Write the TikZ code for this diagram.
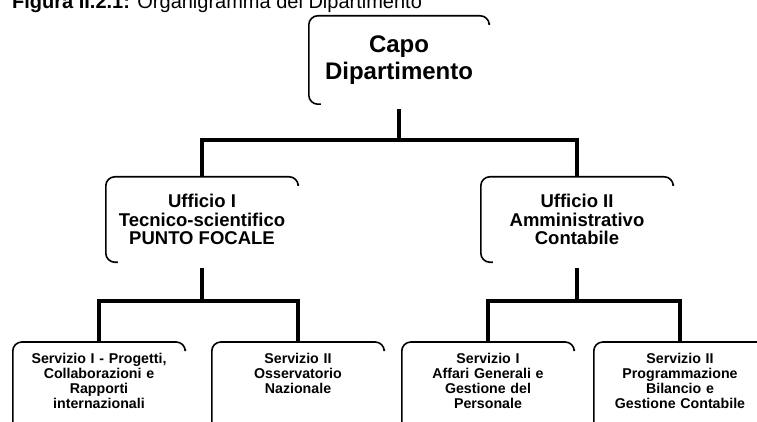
\documentclass[tikz,border=0pt]{standalone}
\usepackage{fontspec}
\setmainfont{Liberation Sans}
\usepackage{tikz}
\usetikzlibrary{positioning,calc}

\begin{document}
\begin{tikzpicture}[
      x=1pt, y=-1pt,
      capo/.style={font=\fontsize{24}{27}\selectfont\bfseries, align=center,
                   minimum width=180pt, minimum height=88pt},
      ufficio/.style={font=\fontsize{18.5}{18.5}\selectfont\bfseries, align=center,
                   minimum width=192pt, minimum height=85pt},
      servizio/.style={font=\fontsize{14.2}{15}\selectfont\bfseries, align=center,
                   text width=164pt, inner xsep=4pt, inner ysep=11pt, anchor=north},
      bordo/.style={line width=1.6pt, rounded corners=9pt},
      ramo/.style={line width=4.5pt}
  ]
      \useasboundingbox (0,0) rectangle (757,422);

      % Titolo (tagliato in alto)
      \node[anchor=base west, inner sep=0, font=\fontsize{20}{24}\selectfont] (titolo) at (12,9)
          {\textbf{Figura II.2.1:} Organigramma del Dipartimento};

      % Livelli
      \node[capo] (capo) at (399,60) {Capo\\Dipartimento};

      \node[ufficio] (u1) at (202,219.5) {Ufficio I\\Tecnico-scientifico\\PUNTO FOCALE};
      \node[ufficio] (u2) at (577,219.5) {Ufficio II\\Amministrativo\\Contabile};

      \node[servizio] (s1) at (99,342) {Servizio I - Progetti,\\Collaborazioni e\\Rapporti\\internazionali};
      \node[servizio] (s2) at (298,342) {Servizio II\\Osservatorio\\Nazionale};
      \node[servizio] (s3) at (488,342) {Servizio I\\Affari Generali e\\Gestione del\\Personale};
      \node[servizio] (s4) at (680,342) {Servizio II\\Programmazione\\Bilancio e\\Gestione Contabile};

      % Bordi (solo lato sinistro e superiore)
      \foreach \n in {capo,u1,u2}
          \draw[bordo] ([yshift=-7pt]\n.north east) |- (\n.north west) |- ([xshift=12pt]\n.south west);
      \foreach \n in {s1,s2,s3,s4}
          \draw[bordo] ([yshift=-7pt]\n.north east) |- (\n.north west) -- (\n.north west |- 0,440);

      % Collegamenti
      \draw[ramo] ([yshift=-5pt]capo.south) -- (capo.south |- 0,140) -| (u1.north);
      \draw[ramo] (capo.south |- 0,140) -| (u2.north);

      \draw[ramo] ([yshift=-6pt]u1.south) -- (u1.south |- 0,301) -| (s1.north);
      \draw[ramo] (u1.south |- 0,301) -| (s2.north);

      \draw[ramo] ([yshift=-6pt]u2.south) -- (u2.south |- 0,301) -| (s3.north);
      \draw[ramo] (u2.south |- 0,301) -| (s4.north);
  \end{tikzpicture}
\end{document}
